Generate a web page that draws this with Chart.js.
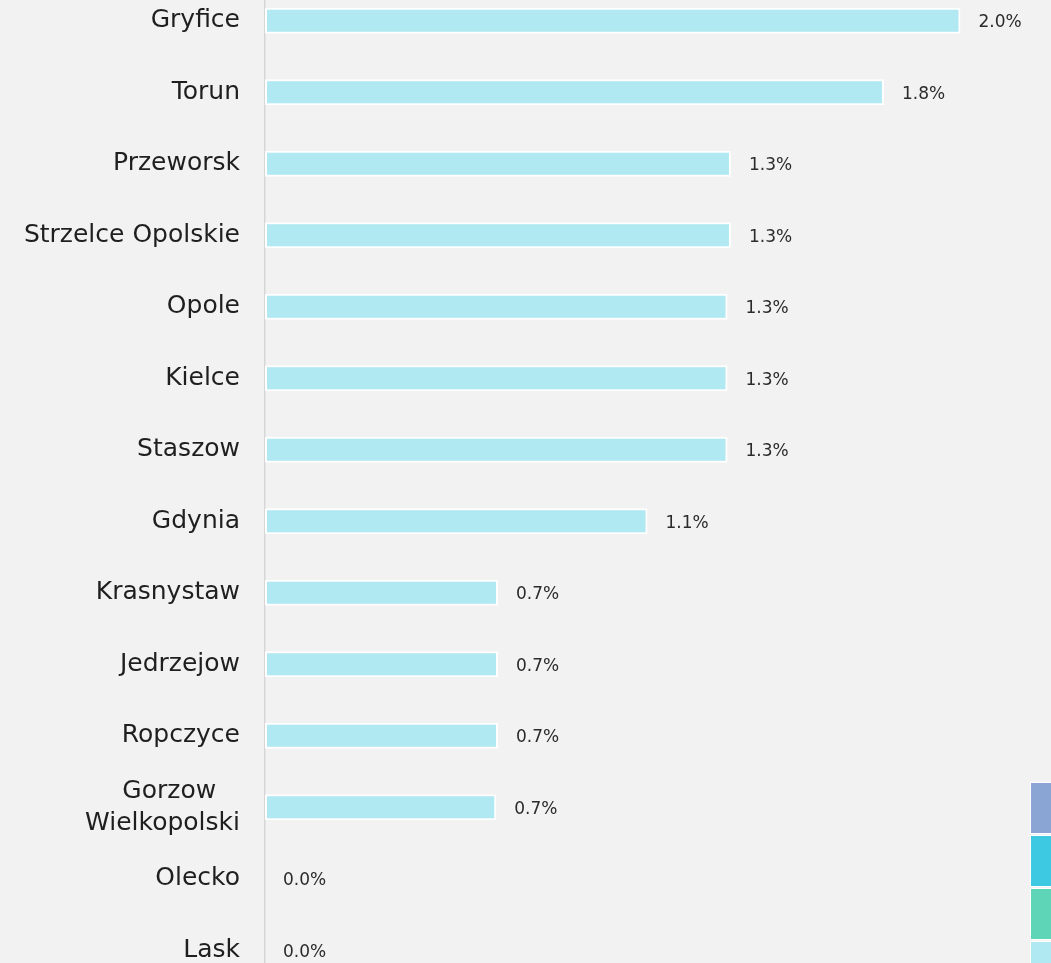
<!DOCTYPE html>
<html>
<head>
<meta charset="utf-8">
<script src="https://cdn.jsdelivr.net/npm/chart.js@4.4.1/dist/chart.umd.min.js"></script>
<style>
  html, body { margin: 0; padding: 0; background: #f2f2f2; overflow: hidden; }
  body { width: 1051px; height: 963px; position: relative; }
  #wrap { position: absolute; left: 0; top: -15px; width: 1051px; height: 1001px; }
  #legend { position: absolute; left: 1030px; top: 782px; width: 40px; }
  #legend div { height: 50px; border: 1px solid #fff; margin-bottom: 1px; }
</style>
</head>
<body>
<div id="wrap"><canvas id="chart"></canvas></div>
<div id="legend"></div>
<script>
// ── DATA ──────────────────────────────────────────────────────────────────────
const CATEGORIES = [
  'Gryfice', 'Torun', 'Przeworsk', 'Strzelce Opolskie', 'Opole', 'Kielce',
  'Staszow', 'Gdynia', 'Krasnystaw', 'Jedrzejow', 'Ropczyce',
  ['Gorzow', 'Wielkopolski'], 'Olecko', 'Lask'
];
const VALUES = [2.0, 1.78, 1.34, 1.34, 1.33, 1.33, 1.33, 1.1, 0.67, 0.67, 0.67, 0.665, 0, 0];
const LEGEND_COLORS = ['#8aa5d3', '#3ec9e3', '#5fd5b8', '#b1e9f2'];

const BAR_COLOR = '#b1e9f2';
const FONT = "'DejaVu Sans', sans-serif";
const LABEL_SIZE = 25;

// ── LEGEND SWATCHES ───────────────────────────────────────────────────────────
const legendEl = document.getElementById('legend');
LEGEND_COLORS.forEach(c => {
  const d = document.createElement('div');
  d.style.background = c;
  legendEl.appendChild(d);
});

// multi-line labels are centred on each other in the original, Chart.js right-aligns
// every line, so pad the shorter lines with trailing spaces
const measure = document.createElement('canvas').getContext('2d');
measure.font = `${LABEL_SIZE}px ${FONT}`;
function centreLines(label) {
  if (!Array.isArray(label)) return label;
  const w = Math.max(...label.map(l => measure.measureText(l).width));
  return label.map(l => {
    let s = l;
    while (measure.measureText(s + ' ').width - measure.measureText(l).width <= (w - measure.measureText(l).width) / 2) s += ' ';
    return s;
  });
}

// ── VALUE LABELS ──────────────────────────────────────────────────────────────
const valueLabels = {
  id: 'valueLabels',
  afterDatasetsDraw(chart) {
    const { ctx } = chart;
    const meta = chart.getDatasetMeta(0);
    ctx.save();
    ctx.font = `17px ${FONT}`;
    ctx.fillStyle = '#2b2b2b';
    ctx.textAlign = 'left';
    ctx.textBaseline = 'middle';
    meta.data.forEach((bar, i) => {
      ctx.fillText(VALUES[i].toFixed(1) + '%', bar.x + 18, bar.y + 2);
    });
    ctx.restore();
  }
};

// ── CHART ─────────────────────────────────────────────────────────────────────
new Chart(document.getElementById('chart'), {
  type: 'bar',
  data: {
    labels: CATEGORIES,
    datasets: [{
      data: VALUES,
      backgroundColor: BAR_COLOR,
      borderColor: '#ffffff',
      borderWidth: 2,
      borderSkipped: false,
      barPercentage: 0.365,
      categoryPercentage: 1
    }]
  },
  options: {
    indexAxis: 'y',
    responsive: true,
    maintainAspectRatio: false,
    animation: false,
    layout: { padding: { left: 0, right: 21, top: 0, bottom: 0 } },
    plugins: {
      legend: { display: false },
      tooltip: { enabled: false }
    },
    scales: {
      x: {
        display: false,
        min: 0,
        max: 2.2
      },
      y: {
        afterFit: s => {
          s.width = 265;
          s.paddingTop = 0;     // tick padding otherwise leaks into top/bottom
          s.paddingBottom = 0;
        },
        grid: { display: false, drawTicks: false },
        border: { display: true, color: '#d6d6d6', width: 1.5 },
        ticks: {
          padding: 25,
          color: '#1f1f1f',
          font: { family: FONT, size: LABEL_SIZE, lineHeight: 1.28 },
          callback: function (v, i) { return centreLines(CATEGORIES[i]); }
        }
      }
    }
  },
  plugins: [valueLabels]
});
</script>
</body>
</html>
